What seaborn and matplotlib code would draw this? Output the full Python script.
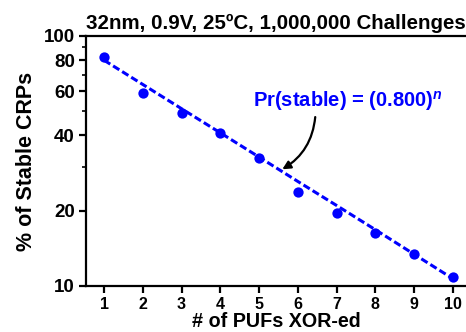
import matplotlib
matplotlib.use("Agg")
import matplotlib.pyplot as plt
import seaborn as sns
import pandas as pd
from matplotlib.ticker import FixedLocator, NullFormatter

n_pufs = [1, 2, 3, 4, 5, 6, 7, 8, 9, 10]
stable_pct = [82.6, 59.3, 49.1, 40.9, 32.6, 23.8, 19.6, 16.3, 13.4, 10.9]
fit_pct = [80.0, 64.0, 51.2, 41.0, 32.8, 26.2, 21.0, 16.8, 13.4, 10.7]
y_ticks = [10, 20, 40, 60, 80, 100]
y_minor = [30, 50, 70, 90]
x_ticks = [1, 2, 3, 4, 5, 6, 7, 8, 9, 10]

sns.set_theme(style="ticks")
plt.rcParams['font.family'] = ['Liberation Sans', 'DejaVu Sans']
plt.rcParams['font.weight'] = 'bold'
plt.rcParams['text.color'] = 'black'
plt.rcParams['axes.labelcolor'] = 'black'
plt.rcParams['mathtext.fontset'] = 'custom'
plt.rcParams['mathtext.it'] = 'Liberation Sans:italic:bold'
plt.rcParams['mathtext.rm'] = 'Liberation Sans:bold'

df = pd.DataFrame({"n": n_pufs, "stable": stable_pct, "fit": fit_pct})

fig = plt.figure(figsize=(4.66, 3.32), dpi=100)
ax = fig.add_axes([86/466, 1-286/332, (466-86)/466, (286-36)/332])

blue = "#0000FF"
sns.lineplot(data=df, x="n", y="fit", ax=ax, color=blue, lw=2.2,
             linestyle=(0, (2.4, 1.1)), zorder=2)
sns.scatterplot(data=df, x="n", y="stable", ax=ax, color=blue, s=55,
                edgecolor=blue, linewidth=0, zorder=3)

ax.set_yscale('log')
ax.set_ylim(10, 100)
ax.set_xlim(0.535, 10.34)
ax.yaxis.set_major_locator(FixedLocator(y_ticks))
ax.yaxis.set_minor_locator(FixedLocator(y_minor))
ax.yaxis.set_minor_formatter(NullFormatter())
ax.set_yticklabels([str(v) for v in y_ticks])
ax.set_xticks(x_ticks)
ax.set_xticklabels([str(v) for v in x_ticks])

for s in ['left', 'top', 'bottom']:
    ax.spines[s].set_linewidth(1.6)
    ax.spines[s].set_color('black')
ax.spines['right'].set_visible(False)

ax.tick_params(axis='both', which='major', direction='out', length=5, width=1.6,
               colors='black', pad=3)
ax.tick_params(axis='x', which='major', labelsize=11.5)
ax.tick_params(axis='y', which='major', labelsize=13.5)
ax.tick_params(axis='y', which='minor', direction='out', length=3, width=1.2,
               colors='black')
for lab in ax.get_xticklabels() + ax.get_yticklabels():
    lab.set_fontweight('bold')

ax.set_xlabel("# of PUFs XOR-ed", fontsize=14.2, fontweight='bold', labelpad=0,
              color='black')
ax.set_ylabel("% of Stable CRPs", fontsize=15.5, fontweight='bold', labelpad=5,
              color='black')
ax.set_title("32nm, 0.9V, 25ºC, 1,000,000 Challenges", fontsize=14.8,
             fontweight='bold', pad=5, color='black')

ax.text(7.3, 55, r"Pr(stable) = (0.800)$^{n}$", color=blue, fontsize=14.5,
        fontweight='bold', ha='center', va='center')
ax.annotate("", xy=(5.6, 29.3), xytext=(6.45, 47.4),
            arrowprops=dict(arrowstyle='-|>', color='black', lw=1.6,
                            connectionstyle='arc3,rad=-0.25',
                            shrinkA=0, shrinkB=0, mutation_scale=12))

fig.savefig("out.png", dpi=100)
